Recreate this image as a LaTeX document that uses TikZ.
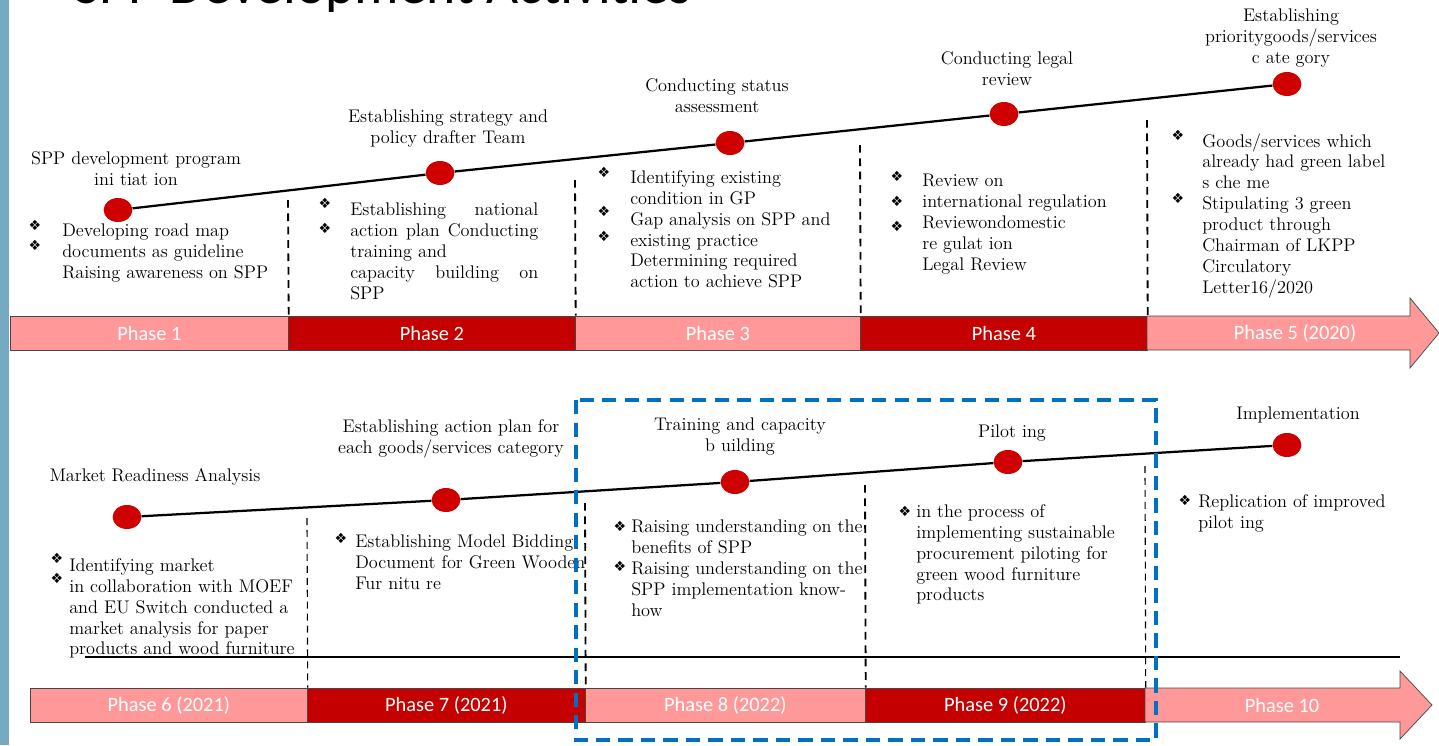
\documentclass[tikz,border=0pt]{standalone}
\usepackage{fontspec}
\newfontfamily\phasefont{Carlito}
\newfontfamily\bulletfont{DejaVu Sans}
\usetikzlibrary{shapes.geometric}

\definecolor{phaseLight}{RGB}{255,153,153}
\definecolor{phaseDark}{RGB}{196,0,0}
\definecolor{dotRed}{RGB}{206,0,0}
\definecolor{frameBlue}{RGB}{0,112,192}
\definecolor{sideBlue}{RGB}{118,170,194}

\newcommand\barHeight{0.85cm}
\newcommand\dotWidth{0.72cm}
\newcommand\dotHeight{0.6cm}
\newcommand\timelineWidth{1.6pt}
\newcommand\bul{{\bulletfont\fontsize{10}{10}\selectfont ❖}}
\newcommand\notesFont{\fontsize{13}{14.9}\selectfont}

\tikzset{
    milestone/.style={ellipse, fill=dotRed, minimum width=\dotWidth, minimum height=\dotHeight, inner sep=0pt},
    timeline/.style={black, line width=\timelineWidth},
    phasebox/.style={rectangle, draw=gray!55!black, line width=0.5pt, minimum height=\barHeight, inner sep=0pt, anchor=west, text=white, font=\phasefont\fontsize{14.5}{15}\selectfont},
    phasearrow/.style={fill=phaseLight, draw=gray!55!black, line width=0.5pt},
    phaselabel/.style={text=white, font=\phasefont\fontsize{14.5}{15}\selectfont, inner sep=0pt},
    heading/.style={anchor=north, align=center, inner sep=0pt, font=\notesFont},
    notes/.style={anchor=north west, align=left, inner sep=0pt, font=\notesFont},
    bulletmark/.style={inner sep=0pt},
    sepline/.style={black, line width=1.3pt, dash pattern=on 5.5pt off 4pt},
    septhin/.style={black, line width=0.8pt, dash pattern=on 5pt off 3.5pt}
}

\begin{document}
\begin{tikzpicture}[x=0.025cm, y=-0.025cm]

    \useasboundingbox (0,0) rectangle (1439,745);
    \clip (0,0) rectangle (1439,745);

    \fill[sideBlue] (0,0) rectangle (9,745);
    \node[anchor=base west, inner sep=0pt, font=\phasefont\fontsize{39.5}{40}\selectfont] (title) at (74,3) {SPP Development Activities};

    % upper row: phases 1 to 5
    \foreach \n/\a/\b/\col in {1/10/288/phaseLight, 2/288/575/phaseDark, 3/575/860/phaseLight, 4/860/1147/phaseDark}{
        \node[phasebox, fill=\col, minimum width={(\b-\a)*0.025cm}] (ph\n) at (\a,333) {Phase \n};
    }
    \draw[phasearrow] (1147,316) -- (1410,316) -- (1410,298) -- (1439,333) -- (1410,368) -- (1410,350) -- (1147,350) -- cycle;
    \node[phaselabel] (ph5) at (1295,333) {Phase 5 (2020)};

    \node[milestone] (m1) at (118,210) {};
    \node[milestone] (m2) at (440,173) {};
    \node[milestone] (m3) at (730,143) {};
    \node[milestone] (m4) at (1004,114) {};
    \node[milestone] (m5) at (1287,84) {};
    \draw[timeline] (m1) -- (m2) -- (m3) -- (m4) -- (m5);

    \coordinate (s1) at (288,200);
    \coordinate (s2) at (575,180);
    \coordinate (s3) at (860,145);
    \coordinate (s4) at (1147,120);
    \draw[sepline] (s1) -- (ph1.north east);
    \draw[sepline] (s2) -- (ph2.north east);
    \draw[sepline] (s3) -- (ph3.north east);
    \draw[sepline] (s4) -- (ph4.north east);

    \node[heading] (t1) at (136,151) {SPP development program\\ini tiat ion};
    \node[heading] (t2) at (448,110) {Establishing strategy and\\policy drafter Team};
    \node[heading] (t3) at (717,78) {Conducting status\\assessment};
    \node[heading] (t4) at (1007,51) {Conducting legal\\review};
    \node[heading] (t5) at (1291,9) {Establishing\\prioritygoods/services\\c ate gory};

    \foreach \y in {225,245} \node[bulletmark] (b1-\y) at (35,\y) {\bul};
    \node[notes] (n1) at (62,224) {Developing road map\\documents as guideline\\Raising awareness on SPP};

    \foreach \y in {203,228} \node[bulletmark] (b2-\y) at (325,\y) {\bul};
    \node[notes, text width=4.7cm] (n2) at (350,203) {Establishing\hfill national\\action\hfill plan\hfill Conducting\\training and\\capacity\hfill building\hfill on\\SPP};

    \foreach \y in {172,211,236} \node[bulletmark] (b3-\y) at (604,\y) {\bul};
    \node[notes] (n3) at (630,170) {Identifying existing\\condition in GP\\Gap analysis on SPP and\\existing practice\\Determining required\\action to achieve SPP};

    \foreach \y in {176,201,226} \node[bulletmark] (b4-\y) at (897,\y) {\bul};
    \node[notes] (n4) at (922,174) {Review on\\international regulation\\Reviewondomestic\\re gulat ion\\Legal Review};

    \foreach \y in {135,198} \node[bulletmark] (b5-\y) at (1178,\y) {\bul};
    \node[notes] (n5) at (1202,133) {Goods/services which\\already had green label\\s che me\\Stipulating 3 green\\product through\\Chairman of LKPP\\Circulatory\\Letter16/2020};

    % lower row: phases 6 to 10
    \draw[black, line width=0.8pt] (85,657) -- (1400,657);
    \foreach \n/\a/\b/\col/\yr in {6/30/307/phaseLight/2021, 7/307/585/phaseDark/2021, 8/585/865/phaseLight/2022, 9/865/1145/phaseDark/2022}{
        \node[phasebox, fill=\col, minimum width={(\b-\a)*0.025cm}] (ph\n) at (\a,705) {Phase \n\ (\yr)};
    }
    \draw[phasearrow] (1145,688) -- (1400,688) -- (1400,671) -- (1432,705) -- (1400,739) -- (1400,722) -- (1145,722) -- cycle;
    \node[phaselabel] (ph10) at (1282,705) {Phase 10};

    \node[milestone] (m6) at (127,517) {};
    \node[milestone] (m7) at (446,500) {};
    \node[milestone] (m8) at (735,482) {};
    \node[milestone] (m9) at (1008,462) {};
    \node[milestone] (m10) at (1287,445) {};
    \draw[timeline] (m6) -- (m7) -- (m8) -- (m9) -- (m10);

    \coordinate (s6) at (307,518);
    \coordinate (s7) at (585,503);
    \coordinate (s8) at (865,485);
    \coordinate (s9) at (1145,466);
    \draw[septhin] (s6) -- (ph6.north east);
    \draw[sepline] (s7) -- (ph7.north east);
    \draw[sepline] (s8) -- (ph8.north east);
    \draw[septhin] (s9) -- (ph9.north east);

    \node[heading] (t6) at (155,468) {Market Readiness Analysis};
    \node[heading] (t7) at (451,419) {Establishing action plan for\\each goods/services category};
    \node[heading] (t8) at (740,418) {Training and capacity\\b uilding};
    \node[heading] (t9) at (1012,425) {Pilot ing};
    \node[heading] (t10) at (1298,407) {Implementation};

    \foreach \y in {558,578} \node[bulletmark] (b6-\y) at (57,\y) {\bul};
    \node[notes] (n6) at (69,558) {Identifying market\\in collaboration with MOEF\\and EU Switch conducted a\\market analysis for paper\\products and wood furniture};

    \node[bulletmark] (b7) at (341,538) {\bul};
    \node[notes] (n7) at (355,535) {Establishing Model Bidding\\Document for Green Wooden\\Fur nitu re};

    \foreach \y in {526,566} \node[bulletmark] (b8-\y) at (620,\y) {\bul};
    \node[notes] (n8) at (631,520) {Raising understanding on the\\benefits of SPP\\Raising understanding on the\\SPP implementation know-\\how};

    \node[bulletmark] (b9) at (905,511) {\bul};
    \node[notes] (n9) at (916,504) {in the process of\\implementing sustainable\\procurement piloting for\\green wood furniture\\products};

    \node[bulletmark] (b10) at (1185,500) {\bul};
    \node[notes] (n10) at (1198,494) {Replication of improved\\pilot ing};

    % highlighted phases 8 and 9
    \draw[frameBlue, line width=3.5pt, dash pattern=on 10pt off 6pt] (576,400) rectangle (1156,740);

\end{tikzpicture}
\end{document}
